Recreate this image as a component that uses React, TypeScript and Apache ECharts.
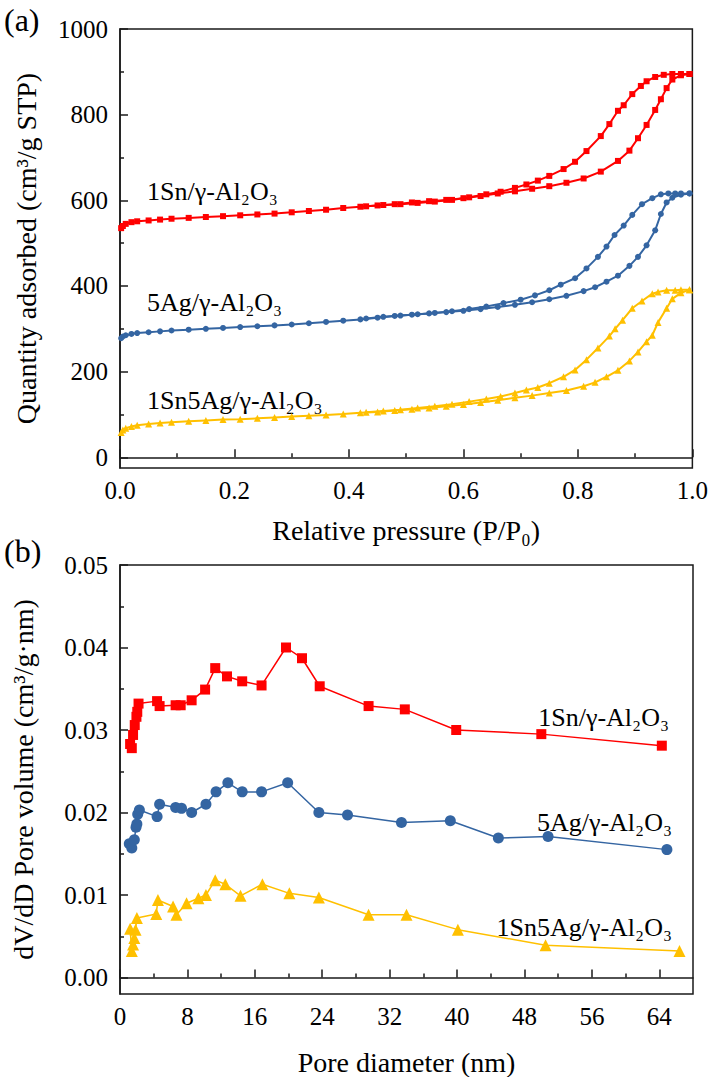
import React, { useEffect, useRef } from "react";
import * as echarts from "echarts";

const FONT = "Liberation Serif";
const RED = "#FF0000";
const BLUE = "#3465A2";
const YELLOW = "#FFC000";
const AXIS = "#1a1a1a";

// ---------- (a) N2 isotherms : [P/P0, quantity adsorbed] ----------
const snAds: number[][] = [
  [0.002, 535], [0.005, 540], [0.01, 545], [0.02, 549], [0.03, 551], [0.05, 553], [0.07, 555], [0.09, 557],
  [0.12, 559], [0.15, 561], [0.18, 563], [0.21, 565], [0.24, 567], [0.27, 569], [0.3, 572], [0.33, 575],
  [0.36, 578], [0.39, 582], [0.42, 585], [0.45, 588], [0.48, 591], [0.51, 595], [0.54, 598], [0.57, 601],
  [0.6, 605], [0.63, 610], [0.66, 616], [0.69, 621], [0.72, 627], [0.75, 633], [0.78, 641], [0.81, 651],
  [0.84, 667], [0.87, 692], [0.89, 716], [0.905, 745], [0.92, 776], [0.935, 811], [0.945, 836], [0.955, 862],
  [0.965, 882], [0.98, 892], [0.995, 895],
];
const snDes: number[][] = [
  [0.995, 895], [0.98, 895], [0.965, 895], [0.95, 893], [0.935, 888], [0.92, 878], [0.91, 867], [0.895, 848],
  [0.88, 822], [0.87, 809], [0.855, 778], [0.84, 750], [0.815, 715], [0.795, 690], [0.775, 673], [0.75, 657],
  [0.73, 646], [0.71, 637], [0.69, 629], [0.665, 620], [0.64, 614], [0.61, 607], [0.58, 601], [0.55, 597],
  [0.52, 594], [0.49, 591], [0.46, 589], [0.43, 586],
];
const agAds: number[][] = [
  [0.002, 278], [0.005, 282], [0.01, 285], [0.02, 288], [0.03, 290], [0.05, 292], [0.07, 294], [0.09, 296],
  [0.12, 298], [0.15, 300], [0.18, 302], [0.21, 304], [0.24, 306], [0.27, 308], [0.3, 310], [0.33, 313],
  [0.36, 316], [0.39, 319], [0.42, 322], [0.45, 326], [0.48, 330], [0.51, 333], [0.54, 336], [0.57, 339],
  [0.6, 342], [0.63, 346], [0.66, 351], [0.69, 356], [0.72, 362], [0.75, 369], [0.78, 377], [0.81, 388],
  [0.83, 397], [0.85, 410], [0.87, 424], [0.89, 447], [0.905, 468], [0.92, 495], [0.935, 530], [0.945, 568],
  [0.955, 595], [0.965, 606], [0.98, 613], [0.995, 616],
];
const agDes: number[][] = [
  [0.995, 616], [0.98, 616], [0.97, 616], [0.958, 616], [0.945, 614], [0.93, 605], [0.912, 591], [0.895, 566],
  [0.88, 541], [0.864, 519], [0.85, 492], [0.835, 468], [0.815, 441], [0.795, 418], [0.77, 403], [0.75, 390],
  [0.725, 378], [0.7, 368], [0.67, 360], [0.64, 352], [0.61, 346], [0.58, 341], [0.55, 337], [0.52, 334],
  [0.49, 331], [0.46, 328], [0.43, 324],
];
const snAgAds: number[][] = [
  [0.002, 58], [0.005, 64], [0.01, 68], [0.02, 72], [0.03, 75], [0.05, 78], [0.07, 80], [0.09, 82],
  [0.12, 84], [0.15, 86], [0.18, 88], [0.21, 89], [0.24, 91], [0.27, 93], [0.3, 95], [0.33, 97],
  [0.36, 99], [0.39, 101], [0.42, 104], [0.45, 106], [0.48, 109], [0.51, 112], [0.54, 115], [0.57, 119],
  [0.6, 123], [0.63, 128], [0.66, 133], [0.69, 139], [0.72, 144], [0.75, 150], [0.78, 156], [0.81, 166],
  [0.83, 175], [0.85, 188], [0.87, 203], [0.89, 225], [0.905, 246], [0.92, 270], [0.93, 285], [0.94, 315],
  [0.955, 348], [0.965, 370], [0.98, 384], [0.995, 391],
];
const snAgDes: number[][] = [
  [0.995, 391], [0.98, 391], [0.97, 390], [0.955, 390], [0.94, 386], [0.93, 382], [0.912, 365], [0.895, 348],
  [0.878, 320], [0.865, 300], [0.855, 283], [0.835, 255], [0.815, 228], [0.795, 204], [0.775, 188], [0.75, 173],
  [0.73, 163], [0.71, 157], [0.69, 150], [0.665, 142], [0.64, 136], [0.61, 130], [0.58, 124], [0.55, 119],
  [0.52, 115], [0.49, 111], [0.46, 108], [0.43, 105],
];

// ---------- (b) pore size distribution : [pore diameter nm, dV/dD] ----------
const snPsd: number[][] = [
  [1.2, 0.0283], [1.4, 0.0278], [1.55, 0.0294], [1.75, 0.0306], [1.95, 0.0316], [2.05, 0.0322], [2.2, 0.0332],
  [4.4, 0.0335], [4.7, 0.0329], [6.6, 0.033], [7.2, 0.033], [8.5, 0.0336], [10.1, 0.0349], [11.3, 0.0375],
  [12.7, 0.0365], [14.5, 0.0359], [16.8, 0.0354], [19.7, 0.04], [21.6, 0.0387], [23.7, 0.0353], [29.5, 0.0329],
  [33.8, 0.0325], [39.9, 0.03], [50.0, 0.0295], [64.3, 0.0281],
];
const agPsd: number[][] = [
  [1.1, 0.0162], [1.4, 0.0157], [1.7, 0.0167], [1.9, 0.0182], [2.0, 0.0186], [2.1, 0.0198], [2.3, 0.0203],
  [4.4, 0.0195], [4.7, 0.021], [6.6, 0.0206], [7.3, 0.0205], [8.5, 0.02], [10.2, 0.021], [11.4, 0.0225],
  [12.8, 0.0236], [14.5, 0.0225], [16.8, 0.0225], [19.9, 0.0236], [23.6, 0.02], [27.0, 0.0197], [33.4, 0.0188],
  [39.2, 0.019], [44.9, 0.0169], [50.8, 0.0171], [64.9, 0.0155],
];
const snAgPsd: number[][] = [
  [1.2, 0.0059], [1.4, 0.0032], [1.55, 0.004], [1.7, 0.0048], [1.85, 0.0058], [2.0, 0.0072], [4.3, 0.0077],
  [4.5, 0.0094], [6.3, 0.0086], [6.7, 0.0076], [7.9, 0.009], [9.3, 0.0096], [10.2, 0.01], [11.3, 0.0118],
  [12.5, 0.0113], [14.3, 0.0099], [16.9, 0.0113], [20.1, 0.0102], [23.6, 0.0097], [29.5, 0.0076], [34.0, 0.0076],
  [40.1, 0.0058], [50.5, 0.0039], [66.4, 0.0032],
];

// ---------- tick values ----------
const topYTicks = [0, 200, 400, 600, 800, 1000];
const topYMinor = [100, 300, 500, 700, 900];
const botYTicks = [0, 0.01, 0.02, 0.03, 0.04, 0.05];
const botYMinor = [0.005, 0.015, 0.025, 0.035, 0.045];
const botXTicks = [0, 8, 16, 24, 32, 40, 48, 56, 64];
const botXMinor = [4, 12, 20, 28, 36, 44, 52, 60];

const sampleNames = ["1Sn/γ-Al₂O₃", "5Ag/γ-Al₂O₃", "1Sn5Ag/γ-Al₂O₃"];

const nameStyle = { fontFamily: FONT, fontSize: 28, color: "#000" };
const labelStyle = { fontFamily: FONT, fontSize: 25, color: "#000" };

function annot(text: string, x: number, y: number, align: string) {
  return {
    type: "text",
    x,
    y,
    style: { text, fill: "#000", fontFamily: FONT, fontSize: 26, align, verticalAlign: "middle" },
  };
}

export default function App() {
  const ref = useRef<HTMLDivElement>(null);
  useEffect(() => {
    if (!ref.current) return;
    const chart = echarts.init(ref.current, undefined, { renderer: "svg" });
    const lineSeries = (
      data: number[][],
      color: string,
      symbol: string,
      size: number,
      xi: number,
      yi: number,
      width: number
    ) => ({
      type: "line",
      data,
      xAxisIndex: xi,
      yAxisIndex: yi,
      symbol,
      symbolSize: size,
      showAllSymbol: true,
      lineStyle: { color, width },
      itemStyle: { color, borderWidth: 0 },
      emphasis: { disabled: true },
    });
    const hiddenMinor = (gridIndex: number, min: number, max: number, values: number[], pos: string) => ({
      type: "value",
      gridIndex,
      min,
      max,
      position: pos,
      axisLine: { show: false },
      axisLabel: { show: false },
      splitLine: { show: false },
      axisTick: { show: true, inside: true, length: 4, customValues: values, lineStyle: { color: AXIS, width: 1.5 } },
    });
    chart.setOption({
      animation: false,
      textStyle: { fontFamily: FONT },
      grid: [
        { left: 120, top: 29, width: 573, height: 439, show: true, borderColor: AXIS, borderWidth: 1.5, backgroundColor: "transparent" },
        { left: 120, top: 565, width: 573, height: 433, show: true, borderColor: AXIS, borderWidth: 1.5, backgroundColor: "transparent" },
      ],
      xAxis: [
        {
          type: "value",
          gridIndex: 0,
          min: 0,
          max: 1,
          interval: 0.2,
          position: "bottom",
          name: "Relative pressure (P/P₀)",
          nameLocation: "middle",
          nameGap: 48,
          nameTextStyle: nameStyle,
          axisLine: { show: true, lineStyle: { color: AXIS, width: 1.5 } },
          axisTick: { show: true, inside: true, length: 8, lineStyle: { color: AXIS, width: 1.5 } },
          minorTick: { show: true, splitNumber: 2, length: 4, lineStyle: { color: AXIS, width: 1.5 } },
          axisLabel: { ...labelStyle, margin: 10, formatter: (v: number) => v.toFixed(1) },
          splitLine: { show: false },
        },
        {
          type: "value",
          gridIndex: 1,
          min: 0,
          max: 68,
          position: "bottom",
          name: "Pore diameter (nm)",
          nameLocation: "middle",
          nameGap: 54,
          nameTextStyle: nameStyle,
          axisLine: { show: true, lineStyle: { color: AXIS, width: 1.5 } },
          axisTick: { show: true, inside: true, length: 8, customValues: botXTicks, lineStyle: { color: AXIS, width: 1.5 } },
          axisLabel: { ...labelStyle, margin: 10, customValues: botXTicks, formatter: (v: number) => String(v) },
          splitLine: { show: false },
        },
        hiddenMinor(1, 0, 68, botXMinor, "bottom"),
      ],
      yAxis: [
        {
          type: "value",
          gridIndex: 0,
          min: -25,
          max: 1000,
          position: "left",
          name: "Quantity adsorbed (cm³/g STP)",
          nameLocation: "middle",
          nameGap: 80,
          nameTextStyle: nameStyle,
          axisLine: { show: true, lineStyle: { color: AXIS, width: 1.5 } },
          axisTick: { show: true, inside: true, length: 8, customValues: topYTicks, lineStyle: { color: AXIS, width: 1.5 } },
          axisLabel: { ...labelStyle, margin: 12, customValues: topYTicks, formatter: (v: number) => String(v) },
          splitLine: { show: false },
        },
        hiddenMinor(0, -25, 1000, topYMinor, "left"),
        {
          type: "value",
          gridIndex: 1,
          min: -0.002,
          max: 0.05,
          position: "left",
          name: "dV/dD Pore volume (cm³/g·nm)",
          nameLocation: "middle",
          nameGap: 83,
          nameTextStyle: nameStyle,
          axisLine: { show: true, lineStyle: { color: AXIS, width: 1.5 } },
          axisTick: { show: true, inside: true, length: 8, customValues: botYTicks, lineStyle: { color: AXIS, width: 1.5 } },
          axisLabel: { ...labelStyle, margin: 12, customValues: botYTicks, formatter: (v: number) => v.toFixed(2) },
          splitLine: { show: false },
        },
        hiddenMinor(1, -0.002, 0.05, botYMinor, "left"),
      ],
      series: [
        lineSeries(snAds, RED, "rect", 6, 0, 0, 2),
        lineSeries(snDes, RED, "rect", 6, 0, 0, 2),
        lineSeries(agAds, BLUE, "circle", 6, 0, 0, 2),
        lineSeries(agDes, BLUE, "circle", 6, 0, 0, 2),
        lineSeries(snAgAds, YELLOW, "triangle", 7, 0, 0, 2),
        lineSeries(snAgDes, YELLOW, "triangle", 7, 0, 0, 2),
        lineSeries(snPsd, RED, "rect", 10, 1, 2, 1.5),
        lineSeries(agPsd, BLUE, "circle", 11, 1, 2, 1.5),
        lineSeries(snAgPsd, YELLOW, "triangle", 12, 1, 2, 1.5),
      ],
      graphic: [
        { type: "text", x: 4, y: 20, style: { text: "(a)", fill: "#000", fontFamily: FONT, fontSize: 32, verticalAlign: "middle" } },
        { type: "text", x: 4, y: 551, style: { text: "(b)", fill: "#000", fontFamily: FONT, fontSize: 32, verticalAlign: "middle" } },
        annot(sampleNames[0], 147, 191, "left"),
        annot(sampleNames[1], 147, 302, "left"),
        annot(sampleNames[2], 147, 400, "left"),
        annot(sampleNames[0], 669, 717, "right"),
        annot(sampleNames[1], 672, 822, "right"),
        annot(sampleNames[2], 672, 927, "right"),
      ],
    });
    return () => chart.dispose();
  }, []);
  return (
    <>
      <style>{`.bet-chart text, .bet-chart tspan { font-family: "Liberation Serif", "Times New Roman", serif !important; }`}</style>
      <div
        ref={ref}
        className="bet-chart"
        style={{ position: "absolute", left: 0, top: 0, width: 711, height: 1077, background: "#fff" }}
      />
    </>
  );
}
